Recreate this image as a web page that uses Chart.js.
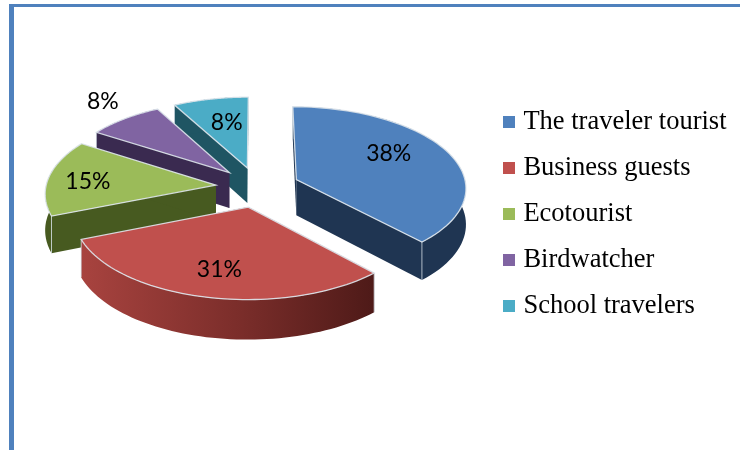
<!DOCTYPE html>
<html>
<head>
<meta charset="utf-8">
<style>
  html, body { margin: 0; padding: 0; background: #fff; overflow: hidden; }
  #frame { position: absolute; left: 9px; top: 4px; width: 731px; height: 446px; box-sizing: border-box;
           border-left: 5px solid #4f81bd; border-top: 3px solid #4f81bd; }
  canvas { position: absolute; left: 0; top: 0; }
</style>
<script src="https://cdn.jsdelivr.net/npm/chart.js@4"></script>
</head>
<body>
<div id="frame"></div>
<canvas id="pieChart" width="740" height="450"></canvas>
<script>
const categories = ['The traveler tourist', 'Business guests', 'Ecotourist', 'Birdwatcher', 'School travelers'];
const shares = [38, 31, 15, 8, 8];

const topColors = ['#4f81bd', '#c0504d', '#9bbb59', '#8064a2', '#4bacc6'];
const wallColors = ['#1f3552', '#7a2d2a', '#475a20', '#3a2a50', '#1f5563'];

// how far along the slice each % label sits, and a small nudge in px
const labelRadius = [0.62, 0.68, 0.74, 1.15, 0.62];
const labelNudge = [[-2, -8], [-1, 3], [-4, 2], [-7, -10], [3, -1]];

const EXPLODE = 42;   // pull-out of the slices
const TILT = 0.48;    // squash of the pie plane
const PERSP = 0.09;   // front grows, back shrinks
const DEPTH = 36;     // wall height

function project(arc, x, y, down) {
  const s = 1 + PERSP * y / arc.outerRadius;
  return [arc.x + s * x, arc.y + s * (TILT * y + (down ? DEPTH : 0))];
}

function sliceOutline(arc) {
  const mid = (arc.startAngle + arc.endAngle) / 2;
  const ox = Math.cos(mid) * EXPLODE;
  const oy = Math.sin(mid) * EXPLODE;
  const pts = [[ox, oy]];
  const steps = 60;
  for (let i = 0; i <= steps; i++) {
    const a = arc.startAngle + (arc.endAngle - arc.startAngle) * i / steps;
    pts.push([ox + Math.cos(a) * arc.outerRadius, oy + Math.sin(a) * arc.outerRadius]);
  }
  return pts;
}

function tracePath(ctx, pts) {
  ctx.beginPath();
  pts.forEach((p, i) => (i ? ctx.lineTo(p[0], p[1]) : ctx.moveTo(p[0], p[1])));
  ctx.closePath();
}

function drawSlice(ctx, arc, i) {
  const model = sliceOutline(arc);
  const top = model.map(p => project(arc, p[0], p[1], false));
  const bottom = model.map(p => project(arc, p[0], p[1], true));
  const last = top.length - 1;

  let wall = wallColors[i];
  if (i === 1) {
    wall = ctx.createLinearGradient(top[last][0], 0, top[1][0], 0);
    wall.addColorStop(0, '#a8433f');
    wall.addColorStop(0.55, '#7a2d2a');
    wall.addColorStop(1, '#4e1a18');
  }
  ctx.fillStyle = wall;

  // two flat cut walls, then the curved rim in one piece
  tracePath(ctx, [top[0], top[1], bottom[1], bottom[0]]);
  ctx.fill();
  tracePath(ctx, [top[0], top[last], bottom[last], bottom[0]]);
  ctx.fill();
  tracePath(ctx, top.slice(1).concat(bottom.slice(1).reverse()));
  ctx.fill();

  // light vertical edges at the two outer corners
  ctx.strokeStyle = 'rgba(215,225,232,0.75)';
  ctx.lineWidth = 1;
  [1, last].forEach(j => {
    ctx.beginPath();
    ctx.moveTo(top[j][0], top[j][1]);
    ctx.lineTo(bottom[j][0], bottom[j][1]);
    ctx.stroke();
  });

  tracePath(ctx, top);
  ctx.fillStyle = topColors[i];
  ctx.fill();
  ctx.strokeStyle = 'rgba(222,230,236,0.9)';
  ctx.lineWidth = 1.3;
  ctx.stroke();
}

const pie3d = {
  id: 'pie3d',
  afterLayout(chart) {
    chart.legend.top += 54;
    chart.legend.left -= 3.5;
  },
  beforeDatasetDraw(chart, args) {
    const ctx = chart.ctx;
    const arcs = chart.getDatasetMeta(args.index).data;
    const order = arcs.map((a, i) => i).sort((p, q) =>
      Math.sin((arcs[p].startAngle + arcs[p].endAngle) / 2) - Math.sin((arcs[q].startAngle + arcs[q].endAngle) / 2));

    ctx.save();
    order.forEach(i => drawSlice(ctx, arcs[i], i));

    ctx.fillStyle = '#000';
    ctx.font = '23px Lato';
    ctx.textAlign = 'center';
    ctx.textBaseline = 'middle';
    arcs.forEach((arc, i) => {
      const mid = (arc.startAngle + arc.endAngle) / 2;
      const r = EXPLODE + labelRadius[i] * arc.outerRadius;
      const p = project(arc, Math.cos(mid) * r, Math.sin(mid) * r, false);
      ctx.fillText(shares[i] + '%', p[0] + labelNudge[i][0], p[1] + labelNudge[i][1]);
    });
    ctx.restore();
    return false;
  }
};

function legendMarker(color) {
  const c = document.createElement('canvas');
  c.width = 12;
  c.height = 12;
  const g = c.getContext('2d');
  g.fillStyle = color;
  g.fillRect(0, 0, 12, 12);
  return c;
}

new Chart(document.getElementById('pieChart'), {
  type: 'pie',
  data: {
    labels: categories,
    datasets: [{ data: shares, backgroundColor: topColors, borderWidth: 0 }]
  },
  plugins: [pie3d],
  options: {
    responsive: false,
    animation: false,
    layout: { padding: { left: 23, right: 0, top: 17, bottom: 93 } },
    plugins: {
      tooltip: { enabled: false },
      legend: {
        position: 'right',
        labels: {
          color: '#000',
          font: { family: '"Liberation Serif"', size: 26.5 },
          padding: 19.5,
          usePointStyle: true,
          pointStyleWidth: 2,
          generateLabels: () => categories.map((text, i) => ({
            text: text,
            fontColor: '#000',
            pointStyle: legendMarker(topColors[i]),
            lineWidth: 0,
            index: i
          }))
        }
      }
    }
  }
});
</script>
</body>
</html>
